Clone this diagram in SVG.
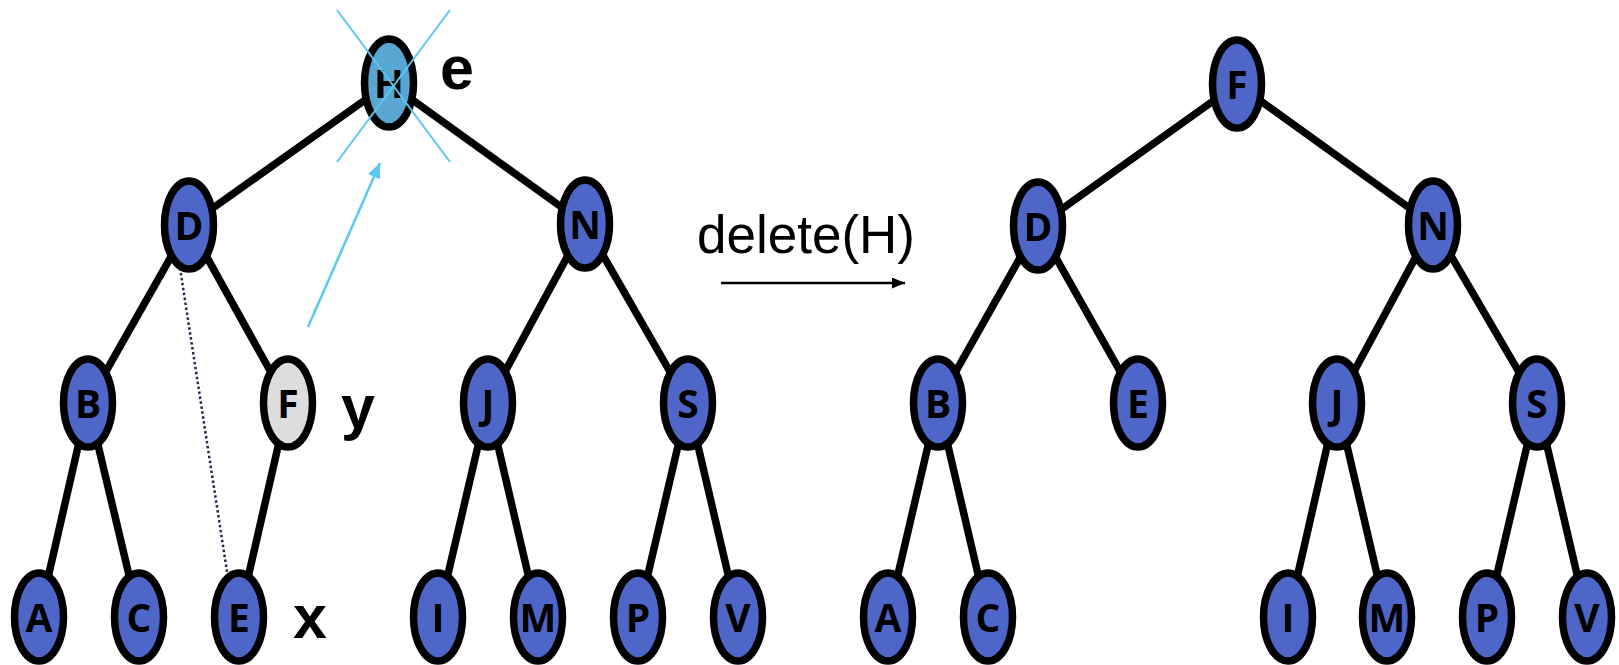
<svg xmlns="http://www.w3.org/2000/svg" width="1619" height="665" viewBox="0 0 1619 665">
<style>
.e{stroke:#000;stroke-width:7.5;fill:none}
.n ellipse{stroke:#000;stroke-width:7.5;fill:#4F66C9}
.n text{font-family:"Open Sans","Liberation Sans",sans-serif;font-weight:bold;font-size:39px;text-anchor:middle;fill:#000}
.lbl{font-family:"Liberation Sans",Arial,sans-serif;font-weight:bold;font-size:61px;fill:#000}
.cap{font-family:"Liberation Sans",Arial,sans-serif;font-size:53px;fill:#000}
</style>
<defs>
<marker id="ab" markerWidth="13" markerHeight="11" refX="13" refY="5.5" orient="auto" markerUnits="userSpaceOnUse"><path d="M0,0 L13,5.5 L0,11 Z" fill="#000"/></marker>
<marker id="ac" markerWidth="15" markerHeight="13" refX="15" refY="6.5" orient="auto" markerUnits="userSpaceOnUse"><path d="M0,0 L15,6.5 L0,13 Z" fill="#5BC8F0"/></marker>
</defs>
<g id="connectors">
<line class="e" x1="389" y1="83" x2="189" y2="225"/>
<line class="e" x1="389" y1="83" x2="585" y2="224"/>
<line class="e" x1="189" y1="225" x2="88" y2="403"/>
<line class="e" x1="189" y1="225" x2="288" y2="403"/>
<line class="e" x1="585" y1="224" x2="488" y2="403"/>
<line class="e" x1="585" y1="224" x2="688" y2="403"/>
<line class="e" x1="88" y1="403" x2="39" y2="617"/>
<line class="e" x1="88" y1="403" x2="139" y2="617"/>
<line class="e" x1="288" y1="403" x2="239" y2="617"/>
<line class="e" x1="488" y1="403" x2="438" y2="617"/>
<line class="e" x1="488" y1="403" x2="538" y2="617"/>
<line class="e" x1="688" y1="403" x2="638" y2="617"/>
<line class="e" x1="688" y1="403" x2="738" y2="617"/>
<line class="e" x1="1237" y1="84" x2="1038" y2="226"/>
<line class="e" x1="1237" y1="84" x2="1433" y2="225"/>
<line class="e" x1="1038" y1="226" x2="938" y2="403"/>
<line class="e" x1="1038" y1="226" x2="1138" y2="403"/>
<line class="e" x1="1433" y1="225" x2="1337" y2="403"/>
<line class="e" x1="1433" y1="225" x2="1537" y2="403"/>
<line class="e" x1="938" y1="403" x2="888" y2="617"/>
<line class="e" x1="938" y1="403" x2="988" y2="617"/>
<line class="e" x1="1337" y1="403" x2="1288" y2="617"/>
<line class="e" x1="1337" y1="403" x2="1387" y2="617"/>
<line class="e" x1="1537" y1="403" x2="1487" y2="617"/>
<line class="e" x1="1537" y1="403" x2="1587" y2="617"/>
<line x1="180" y1="268" x2="228" y2="578" stroke="#1F2A4A" stroke-width="2.5" stroke-dasharray="2.5 2.5"/>
<line x1="308" y1="327" x2="380" y2="163" stroke="#5BC8F0" stroke-width="2.5" marker-end="url(#ac)"/>
<line x1="721" y1="283" x2="905" y2="283" stroke="#000" stroke-width="2.5" marker-end="url(#ab)"/>
</g>
<g id="left-H" class="n"><ellipse cx="389" cy="83" rx="24.5" ry="44" style="fill:#58A6D1"/><text x="389" y="98">H</text></g>
<g id="left-D" class="n"><ellipse cx="189" cy="225" rx="24.5" ry="44"/><text x="189" y="240">D</text></g>
<g id="left-N" class="n"><ellipse cx="585" cy="224" rx="24.5" ry="44"/><text x="585" y="239">N</text></g>
<g id="left-B" class="n"><ellipse cx="88" cy="403" rx="24.5" ry="44"/><text x="88" y="418">B</text></g>
<g id="left-F" class="n"><ellipse cx="288" cy="403" rx="24.5" ry="44" style="fill:#DDDDDD"/><text x="288" y="418">F</text></g>
<g id="left-J" class="n"><ellipse cx="488" cy="403" rx="24.5" ry="44"/><text x="488" y="418">J</text></g>
<g id="left-S" class="n"><ellipse cx="688" cy="403" rx="24.5" ry="44"/><text x="688" y="418">S</text></g>
<g id="left-A" class="n"><ellipse cx="39" cy="617" rx="24.5" ry="44"/><text x="39" y="632">A</text></g>
<g id="left-C" class="n"><ellipse cx="139" cy="617" rx="24.5" ry="44"/><text x="139" y="632">C</text></g>
<g id="left-E" class="n"><ellipse cx="239" cy="617" rx="24.5" ry="44"/><text x="239" y="632">E</text></g>
<g id="left-I" class="n"><ellipse cx="438" cy="617" rx="24.5" ry="44"/><text x="438" y="632">I</text></g>
<g id="left-M" class="n"><ellipse cx="538" cy="617" rx="24.5" ry="44"/><text x="538" y="632">M</text></g>
<g id="left-P" class="n"><ellipse cx="638" cy="617" rx="24.5" ry="44"/><text x="638" y="632">P</text></g>
<g id="left-V" class="n"><ellipse cx="738" cy="617" rx="24.5" ry="44"/><text x="738" y="632">V</text></g>
<g id="right-F" class="n"><ellipse cx="1237" cy="84" rx="24.5" ry="44"/><text x="1237" y="99">F</text></g>
<g id="right-D" class="n"><ellipse cx="1038" cy="226" rx="24.5" ry="44"/><text x="1038" y="241">D</text></g>
<g id="right-N" class="n"><ellipse cx="1433" cy="225" rx="24.5" ry="44"/><text x="1433" y="240">N</text></g>
<g id="right-B" class="n"><ellipse cx="938" cy="403" rx="24.5" ry="44"/><text x="938" y="418">B</text></g>
<g id="right-E" class="n"><ellipse cx="1138" cy="403" rx="24.5" ry="44"/><text x="1138" y="418">E</text></g>
<g id="right-J" class="n"><ellipse cx="1337" cy="403" rx="24.5" ry="44"/><text x="1337" y="418">J</text></g>
<g id="right-S" class="n"><ellipse cx="1537" cy="403" rx="24.5" ry="44"/><text x="1537" y="418">S</text></g>
<g id="right-A" class="n"><ellipse cx="888" cy="617" rx="24.5" ry="44"/><text x="888" y="632">A</text></g>
<g id="right-C" class="n"><ellipse cx="988" cy="617" rx="24.5" ry="44"/><text x="988" y="632">C</text></g>
<g id="right-I" class="n"><ellipse cx="1288" cy="617" rx="24.5" ry="44"/><text x="1288" y="632">I</text></g>
<g id="right-M" class="n"><ellipse cx="1387" cy="617" rx="24.5" ry="44"/><text x="1387" y="632">M</text></g>
<g id="right-P" class="n"><ellipse cx="1487" cy="617" rx="24.5" ry="44"/><text x="1487" y="632">P</text></g>
<g id="right-V" class="n"><ellipse cx="1587" cy="617" rx="24.5" ry="44"/><text x="1587" y="632">V</text></g>
<g id="cross">
<line x1="337" y1="10" x2="450" y2="162" stroke="#5BC8F0" stroke-width="2"/>
<line x1="450" y1="10" x2="337" y2="162" stroke="#5BC8F0" stroke-width="2"/>
</g>
<g id="labels">
<text class="lbl" x="440" y="89">e</text>
<text class="lbl" x="341" y="428">y</text>
<text class="lbl" x="293" y="638">x</text>
<text class="cap" x="697" y="253">delete(H)</text>
</g>
</svg>
